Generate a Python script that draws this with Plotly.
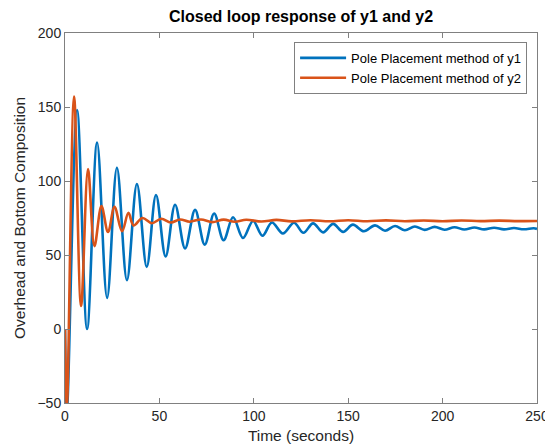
import plotly.graph_objects as go

# ---- data (extrema of each response) ----
t_y1 = [0, 1.0, 6.4, 11.7, 17.0, 22.3, 27.5, 32.8, 38.1, 43.3, 48.2, 53.3, 58.3, 63.6,
        68.9, 74.0, 79.0, 84.0, 89.0, 94.3, 99.6, 104.6, 109.6, 115.4, 121.3, 126.3,
        131.4, 136.7, 142.0, 147.3, 152.5, 158.3, 164.2, 169.5, 174.8, 180.0, 185.3,
        190.5, 195.8, 201.0, 206.3, 211.5, 216.8, 222.0, 227.3, 232.5, 237.8, 243.0,
        248.3, 250]
y1 = [0, -55, 148, 0, 126, 21, 109, 33, 98, 42, 90.5, 49, 84, 54.5,
      80.5, 57, 78, 60, 75.5, 61.5, 73, 63, 72, 64.5, 71.8, 65,
      71.4, 65.3, 71, 65.6, 70.5, 66, 70, 66.4, 69.6, 66.7, 69.3,
      67, 69, 67.1, 68.8, 67.2, 68.6, 67.3, 68.4, 67.3, 68.2, 67.4,
      68.1, 67.6]

t_y2 = [0, 1.0, 4.8, 8.5, 12.2, 15.6, 19.3, 22.8, 26.2, 30.2, 33.6, 36.3,
        41, 46, 51, 56, 61, 66, 72, 78, 84, 90, 96, 104, 112, 120, 130,
        140, 150, 160, 170, 180, 190, 200, 210, 220, 230, 240, 250]
y2 = [0, -52, 157, 15.5, 108, 56, 83, 65.5, 82.5, 66, 78.5, 70,
      75, 71.5, 74.5, 72, 74, 72.5, 74, 72.2, 73.9, 72.5, 73.8, 72.6, 73.7, 72.7, 73.5,
      72.8, 73.5, 72.8, 73.4, 72.8, 73.3, 72.8, 73.3, 72.9, 73.2, 72.9, 73.0]

name_y1 = "Pole Placement method of y1"
name_y2 = "Pole Placement method of y2"

x_ticks = [0, 50, 100, 150, 200, 250]
y_ticks = [-50, 0, 50, 100, 150, 200]

FONT = "Arial, Liberation Sans, Helvetica, sans-serif"
TXT = "#262626"
AX = "#808080"

# the page places the figure 8 px from the top-left corner
W, H = 545, 440

fig = go.Figure()
fig.add_trace(go.Scatter(x=t_y1, y=y1, mode="lines", name=name_y1,
                         line=dict(color="#0072BD", width=2.6, shape="spline", smoothing=1.0)))
fig.add_trace(go.Scatter(x=t_y2, y=y2, mode="lines", name=name_y2,
                         line=dict(color="#D95319", width=2.6, shape="spline", smoothing=1.0)))

axis_common = dict(showgrid=False, zeroline=False, showline=True, linecolor=AX, linewidth=1,
                   mirror="ticks", ticks="inside", ticklen=5, tickcolor=AX, automargin=False,
                   tickfont=dict(family=FONT, size=14, color=TXT))

fig.update_xaxes(range=[0, 250], tickvals=x_ticks, **axis_common,
                 title=dict(text="Time (seconds)", font=dict(family=FONT, size=15.5, color=TXT),
                            standoff=7))
fig.update_yaxes(range=[-50, 200], tickvals=y_ticks, **axis_common,
                 title=dict(text="Overhead and Bottom Composition",
                            font=dict(family=FONT, size=15.5, color=TXT), standoff=8))

fig.update_layout(
    width=W, height=H,
    margin=dict(l=57, r=16, t=25, b=45),
    paper_bgcolor="white", plot_bgcolor="white",
    title=dict(text="<b>Closed loop response of y1 and y2</b>", x=293 / W,
               xanchor="center", y=1 - 8.5 / H, yanchor="middle",
               font=dict(family=FONT, size=16, color="black")),
    legend=dict(x=0.979, y=0.976, xanchor="right", yanchor="top",
                bgcolor="white", bordercolor=AX, borderwidth=1,
                font=dict(family=FONT, size=13, color="black"),
                tracegroupgap=0, itemwidth=46),
    showlegend=True,
)

fig.write_html("out.html")
